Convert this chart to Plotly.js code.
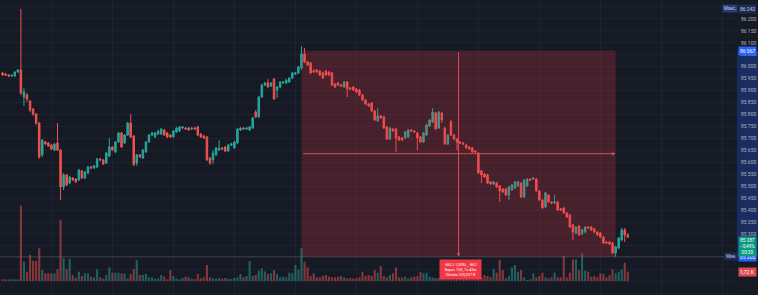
<!DOCTYPE html>
<html>
<head>
<meta charset="utf-8">
<script src="https://cdn.plot.ly/plotly-3.0.1.min.js"></script>
<style>
html,body{margin:0;padding:0;background:#161a25;overflow:hidden;}
#chart{width:758px;height:295px;}
</style>
</head>
<body>
<div id="chart"></div>
<script>
// ---- 1-minute candles (price) ----
const openP = [
85974,85969,85965,85961,85961,85978,85986,85873,85882,85856,
85823,85802,85764,85631,85685,85681,85672,85651,85681,85651,
85497,85547,85513,85534,85530,85526,85564,85534,85555,85580,
85576,85580,85614,85610,85597,85626,85664,85643,85685,85723,
85681,85714,85764,85710,85597,85631,85618,85643,85685,85714,
85706,85718,85718,85735,85723,85714,85706,85727,85731,85743,
85743,85743,85739,85743,85748,85718,85710,85706,85618,85610,
85631,85651,85660,85664,85647,85672,85660,85681,85735,85743,
85739,85735,85743,85810,85790,85873,85923,85932,85919,85948,
85902,85915,85932,85932,85936,85953,85969,85974,85995,86053,
86020,86015,85982,85986,85982,85974,85982,85978,85974,85928,
85932,85923,85915,85936,85911,85915,85907,85902,85882,85861,
85844,85848,85815,85773,85794,85790,85748,85697,85739,85739,
85706,85702,85702,85706,85735,85731,85723,85706,85685,85714,
85752,85769,85806,85743,85806,85743,85677,85769,85714,85697,
85685,85681,85672,85664,85660,85647,85639,85564,85551,85547,
85518,85509,85513,85501,85488,85488,85463,85484,85492,85501,
85513,85455,85501,85530,85530,85530,85480,85442,85413,85463,
85434,85430,85434,85405,85409,85388,85379,85338,85304,85333,
85300,85308,85329,85329,85321,85308,85304,85287,85266,85266,
85262,85220,85241,85275,85317,85296];
const highP = [
85978,85974,85969,85965,85982,85990,86242,85911,85890,85861,
85827,85806,85769,85697,85689,85685,85677,85681,85764,85656,
85555,85551,85543,85538,85534,85572,85568,85564,85585,85585,
85589,85618,85618,85614,85643,85702,85668,85689,85727,85727,
85718,85769,85802,85714,85635,85635,85656,85689,85718,85727,
85727,85735,85743,85739,85727,85718,85735,85748,85752,85752,
85748,85748,85748,85748,85752,85723,85714,85710,85622,85651,
85664,85693,85664,85668,85677,85681,85689,85743,85748,85748,
85748,85752,85790,85819,85877,85928,85936,85948,85936,85953,
85919,85940,85940,85948,85957,85978,85978,86003,86086,86078,
86024,86020,85990,85990,85986,85978,85986,85982,85978,85932,
85936,85928,85940,85940,85915,85919,85911,85907,85886,85865,
85848,85852,85819,85827,85798,85794,85752,85748,85743,85743,
85710,85706,85731,85739,85739,85735,85727,85710,85727,85760,
85781,85827,85810,85815,85810,85748,85718,85777,85718,85702,
85689,85685,85677,85668,85664,85651,85643,85568,85555,85551,
85522,85522,85518,85505,85492,85492,85501,85509,85522,85522,
85518,85530,85534,85534,85538,85534,85484,85446,85476,85467,
85438,85463,85438,85409,85413,85392,85384,85342,85333,85338,
85321,85333,85333,85333,85325,85313,85308,85292,85271,85271,
85266,85250,85287,85325,85325,85304];
const lowP = [
85961,85961,85957,85957,85957,85974,85882,85836,85852,85810,
85794,85756,85614,85622,85672,85664,85651,85647,85647,85442,
85484,85501,85509,85522,85513,85522,85530,85530,85551,85572,
85572,85576,85605,85589,85593,85622,85647,85639,85681,85660,
85677,85710,85702,85585,85585,85618,85614,85639,85681,85710,
85702,85714,85714,85710,85702,85702,85702,85723,85727,85739,
85735,85731,85735,85735,85710,85702,85697,85605,85589,85593,
85626,85647,85651,85643,85643,85668,85656,85677,85731,85735,
85735,85731,85739,85785,85785,85869,85919,85911,85915,85861,
85869,85911,85928,85928,85932,85948,85965,85969,85986,86015,
86003,85969,85974,85974,85961,85948,85961,85961,85919,85911,
85919,85915,85911,85873,85902,85898,85890,85877,85856,85840,
85831,85810,85773,85769,85781,85739,85693,85693,85727,85643,
85689,85689,85697,85702,85727,85723,85651,85681,85681,85710,
85748,85764,85735,85739,85764,85672,85672,85710,85693,85651,
85677,85672,85656,85651,85639,85639,85551,85513,85534,85509,
85505,85505,85492,85434,85472,85459,85442,85480,85488,85497,
85451,85451,85497,85522,85526,85476,85438,85405,85409,85430,
85425,85425,85396,85396,85384,85367,85325,85275,85300,85292,
85296,85304,85321,85313,85304,85292,85283,85258,85258,85254,
85216,85205,85237,85271,85266,85283];
const closeP = [
85965,85965,85961,85965,85978,85986,85890,85894,85865,85819,
85802,85764,85622,85693,85677,85668,85656,85677,85651,85497,
85547,85505,85538,85526,85518,85568,85534,85559,85580,85576,
85585,85614,85610,85593,85639,85664,85651,85685,85723,85664,
85714,85764,85706,85589,85631,85622,85651,85685,85714,85723,
85723,85731,85739,85714,85706,85706,85731,85743,85748,85748,
85739,85735,85743,85739,85714,85706,85702,85610,85597,85639,
85660,85660,85656,85647,85672,85677,85685,85739,85743,85739,
85743,85748,85785,85790,85873,85923,85932,85915,85932,85865,
85915,85936,85936,85944,85953,85974,85974,85999,86053,86020,
86007,85974,85978,85978,85965,85953,85965,85965,85923,85915,
85923,85919,85936,85907,85907,85902,85894,85882,85861,85844,
85836,85815,85777,85794,85785,85743,85697,85743,85731,85702,
85693,85693,85727,85735,85731,85727,85702,85685,85723,85756,
85777,85810,85739,85810,85777,85677,85714,85714,85697,85685,
85681,85677,85660,85656,85643,85643,85555,85547,85538,85513,
85509,85518,85497,85480,85476,85463,85497,85505,85518,85518,
85455,85526,85530,85526,85534,85480,85442,85409,85472,85434,
85430,85434,85400,85400,85388,85371,85329,85308,85329,85296,
85317,85329,85325,85317,85308,85296,85287,85262,85262,85258,
85220,85246,85283,85317,85296,85287];
// ---- volume (thousands) ----
const volumeK = [
0.31,0.31,0.31,0.31,0.31,0.31,13.94,3.58,1.73,4.81,
3.76,3.76,6.05,2.04,1.42,1.42,1.42,1.42,2.16,11.29,
4.20,2.22,4.07,1.11,0.62,1.73,0.93,1.42,1.42,0.80,
0.68,2.16,0.68,0.43,1.11,2.53,1.54,1.54,1.54,1.42,
1.42,0.49,1.30,2.22,3.89,1.11,1.11,1.30,0.68,0.68,
0.43,0.49,1.11,0.80,0.31,2.04,0.93,0.43,0.31,0.56,
0.80,0.68,0.43,0.37,1.30,0.49,0.68,2.96,0.68,0.49,
0.43,0.56,0.43,0.56,0.43,0.37,0.56,0.68,1.30,0.68,
0.93,3.70,0.93,1.11,1.91,2.34,1.79,1.30,1.42,2.04,
1.30,0.68,0.80,0.68,1.54,1.42,2.96,2.04,6.05,3.58,
2.53,0.93,1.42,0.68,0.68,0.93,1.11,0.80,0.68,0.68,
0.80,0.93,0.68,0.49,0.56,0.49,0.49,0.68,1.73,0.93,
1.11,0.93,2.04,1.54,2.78,0.93,0.68,1.11,1.42,2.53,
0.68,0.62,0.80,0.43,0.68,0.80,0.93,1.67,1.42,1.54,
0.80,0.68,0.56,0.56,1.10,1.60,0.90,1.40,0.80,1.20,
0.60,0.70,0.90,0.80,1.00,0.70,2.60,0.68,1.11,0.93,
0.68,2.28,1.54,3.89,2.04,0.49,0.93,2.53,2.96,1.73,
2.04,0.68,0.19,0.31,1.42,0.68,0.93,1.54,0.68,0.49,
0.68,1.54,0.68,0.68,4.63,0.68,1.54,4.01,4.01,2.04,
5.12,1.91,1.73,0.80,0.93,0.68,1.42,1.30,0.68,1.11,
2.16,1.42,1.73,2.16,3.39,1.72];
// ---- axis ticks (labels hidden under the scale badges are blank) ----
const priceTicks = [85050,85100,85150,85200,85250,85300,85350,85400,85450,85500,85550,85600,85650,85700,85750,85800,85850,85900,85950,86000,86050,86100,86150,86200,86250];
const priceTickText = ["85 050","","","","","85 300","85 350","85 400","85 450","85 500","85 550","85 600","85 650","85 700","85 750","85 800","85 850","85 900","85 950","86 000","86 050","86 100","86 150","86 200",""];
const timeGridBars = [16,36,56,76,96,116,136,156,176,196,216,236];
// ---- measure tool ----
const measureStartBar = 98, measureEndBar = 201;
const measureTop = 86067, measureBottom = 85205;
const measureLines = ["-862 (-1,00%) , -862", "Бары: 103, 1ч 43м", "Объём 103,337 K"];
const highLabel = {name:"Макс.", price:86242, text:"86 242"};
const lowLabel = {name:"Мин.", price:85205, text:"85 205"};
const lastLabel = {price:85287, lines:["85 287","−0,49%","00:30"]};
const lastVolLabel = {value:1.72, text:"1,72 K"};

const UP = '#26a69a', DOWN = '#ef5350';
const bars = closeP.map((_, i) => i);
const volColors = closeP.map((c, i) => c >= openP[i] ? 'rgba(38,166,154,0.5)' : 'rgba(239,83,80,0.5)');

const FONT = 'Roboto, "Liberation Sans", Arial, sans-serif';
const midBar = (measureStartBar + measureEndBar) / 2;
const midPrice = (measureTop + measureBottom) / 2;

const traces = [
  {type:'bar', x:bars, y:volumeK, yaxis:'y2', width:0.7,
   marker:{color:volColors, line:{width:0}}, hoverinfo:'skip'},
  {type:'candlestick', x:bars, open:openP, high:highP, low:lowP, close:closeP,
   increasing:{line:{color:UP, width:1}, fillcolor:UP},
   decreasing:{line:{color:DOWN, width:1}, fillcolor:DOWN},
   whiskerwidth:0, hoverinfo:'skip'}
];

const axisLabel = (y, text, bg, extra) => Object.assign({
  xref:'paper', yref:'y', x:1.002, y:y, xanchor:'left', yanchor:'middle',
  text:text, showarrow:false, bgcolor:bg, borderpad:1,
  font:{family:FONT, size:5, color:'#ffffff'}
}, extra || {});

const layout = {
  width:758, height:295,
  margin:{l:0, r:21, t:0, b:0, pad:0},
  paper_bgcolor:'#161a25', plot_bgcolor:'#161a25',
  showlegend:false, dragmode:false,
  xaxis:{range:[-0.85, 240.8], tickvals:timeGridBars, showticklabels:false,
         showgrid:true, gridcolor:'#1e2230', gridwidth:1, zeroline:false,
         rangeslider:{visible:false}, fixedrange:true},
  yaxis:{range:[85044.7, 86279], side:'right', tickvals:priceTicks, ticktext:priceTickText,
         showgrid:true, gridcolor:'#1e2230', gridwidth:1, zeroline:false, ticks:'',
         ticklabelstandoff:3, showline:false,
         tickfont:{family:FONT, size:5, color:'#b2b5be'}, fixedrange:true},
  yaxis2:{overlaying:'y', range:[-2.59, 51.99], visible:false, fixedrange:true},
  shapes:[
    {type:'rect', xref:'paper', yref:'y', x0:1, x1:1.03, y0:measureBottom, y1:measureTop,
     fillcolor:'rgba(41,98,255,0.28)', line:{width:0}, layer:'below'},
    {type:'line', xref:'paper', yref:'y', x0:0, x1:1, y0:lowLabel.price, y1:lowLabel.price,
     line:{color:'rgba(120,123,134,0.35)', width:1}},
    {type:'rect', xref:'x', yref:'y', x0:measureStartBar, x1:measureEndBar,
     y0:measureBottom, y1:measureTop,
     fillcolor:'rgba(242,54,69,0.22)', line:{width:0}, layer:'above'}
  ],
  annotations:[
    {xref:'x', yref:'y', x:midBar, y:measureBottom, axref:'x', ayref:'y', ax:midBar, ay:measureTop,
     text:'', showarrow:true, arrowhead:2, arrowsize:0.7, arrowwidth:1, arrowcolor:'#d4505c'},
    {xref:'x', yref:'y', x:measureEndBar, y:midPrice, axref:'x', ayref:'y', ax:measureStartBar, ay:midPrice,
     text:'', showarrow:true, arrowhead:2, arrowsize:0.7, arrowwidth:1, arrowcolor:'#d4505c'},
    {xref:'x', yref:'y', x:midBar + 0.7, y:85151, xanchor:'center', yanchor:'middle',
     text:measureLines.join('<br>'), showarrow:false, bgcolor:'#f23645', borderpad:2,
     width:37, align:'center', font:{family:FONT, size:3.8, color:'#ffffff'}},
    axisLabel(highLabel.price, highLabel.text, '#1d2c55', {font:{family:FONT, size:5, color:'#c9cfe4'}}),
    axisLabel(highLabel.price, highLabel.name, '#293c70', {xanchor:'right', font:{family:FONT, size:4.5, color:'#c9cfe4'}}),
    axisLabel(measureTop, '86 067', '#2962ff'),
    axisLabel(lowLabel.price, lowLabel.text, '#2962ff'),
    axisLabel(lowLabel.price, lowLabel.name, '#1d2c55', {xanchor:'right', font:{family:FONT, size:4.5, color:'#c9cfe4'}}),
    axisLabel(85293, lastLabel.lines.join('<br>'), '#089981', {yanchor:'top', font:{family:FONT, size:4.6, color:'#ffffff'}}),
    axisLabel(lastVolLabel.value, lastVolLabel.text, '#e04852', {yref:'y2'})
  ]
};

Plotly.newPlot('chart', traces, layout, {staticPlot:true, displayModeBar:false});
</script>
</body>
</html>
